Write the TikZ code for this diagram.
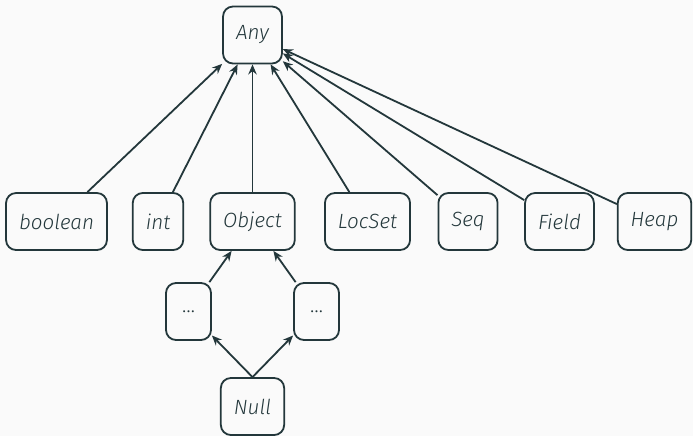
\documentclass[tikz,border=0pt]{standalone}
\usepackage{fontspec}
\setsansfont{Fira Sans}[UprightFont=* Light, ItalicFont=* Light Italic]
\usepackage{tikz}
\usetikzlibrary{
  arrows.meta,
  positioning
}
\definecolor{slate}{RGB}{35,55,59}
\definecolor{paper}{RGB}{250,250,250}

\begin{document}
\begin{tikzpicture}[
  x=0.5pt, y=-0.5pt,
  type/.style={draw=slate, line width=0.9pt, rounded corners=5pt, text=slate,
               inner xsep=6.5pt, minimum height=28.5pt,
               font=\sffamily\itshape\fontsize{10.3}{12}\selectfont},
  arr/.style={-{Stealth[length=5pt,width=4.2pt]}, line width=0.9pt, slate}
]
  \fill[paper] (0,0) rectangle (693,436);
  \useasboundingbox (0,0) rectangle (693,436);

  % Top type
  \node[type] (any) at (252.5,35) {Any};

  % Direct subtypes
  \foreach \n/\t/\x in {bool/boolean/56.5, int/int/158, obj/Object/252.5,
                        loc/LocSet/367.5, seq/Seq/468, fld/Field/559.5, heap/Heap/654.5} {
    \node[type] (\n) at (\x,221.5) {\t};
  }

  % Object hierarchy
  \node[type, minimum width=22.5pt] (dl) at (188.5,311.5) {\upshape\ldots};
  \node[type, minimum width=22.5pt] (dr) at (316.5,311.5) {\upshape\ldots};
  \node[type] (null) at (252.5,406.5) {Null};

  % Arrows
  \foreach \n in {bool,int,obj,loc,seq,fld,heap} {
    \draw[arr] (\n) -- (any);
  }
  \draw[arr] (dl) -- (obj);
  \draw[arr] (dr) -- (obj);
  \draw[arr] (null.north) -- (dl);
  \draw[arr] (null.north) -- (dr);
\end{tikzpicture}
\end{document}
